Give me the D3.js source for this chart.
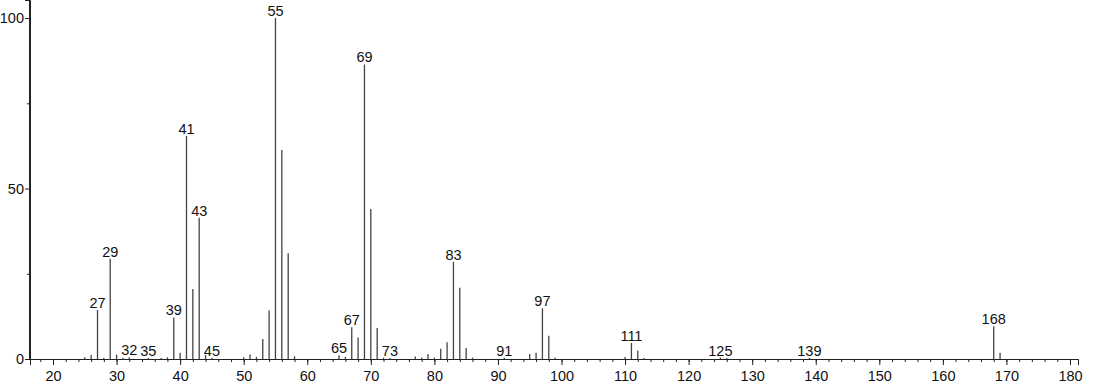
<!DOCTYPE html>
<html>
<head>
<meta charset="utf-8">
<script src="https://cdn.jsdelivr.net/npm/d3@7"></script>
<style>
  body { margin: 0; background: #fff; }
  svg { display: block; font-family: "Liberation Sans", Arial, sans-serif; }
</style>
</head>
<body>
<div id="chart"></div>
<script>
// m/z values and relative intensities (%)
const mz = [25, 26, 27, 28, 29, 30, 31, 32, 35, 37, 38, 39, 40, 41, 42, 43, 44, 45,
  50, 51, 52, 53, 54, 55, 56, 57, 58, 65, 66, 67, 68, 69, 70, 71, 72, 73,
  77, 78, 79, 80, 81, 82, 83, 84, 85, 86, 91, 95, 96, 97, 98, 99,
  110, 111, 112, 113, 125, 126, 139, 168, 169]
const intensity = [0.5, 1.2, 14.4, 0.3, 29.4, 1.3, 0.4, 0.5, 0.3, 0.3, 0.5, 12.2, 1.8, 65.4, 20.5, 41.4, 1.2, 0.4,
  0.5, 1.3, 0.6, 5.9, 14.2, 100, 61.3, 31, 0.8, 1.1, 0.6, 9.3, 6.3, 86.4, 44, 9.1, 0.4, 0.3,
  0.7, 0.4, 1.5, 0.4, 3.0, 4.9, 28.5, 20.9, 3.2, 0.4, 0.4, 1.5, 1.8, 14.9, 6.8, 0.4,
  0.6, 4.7, 2.5, 0.3, 0.4, 0.3, 0.3, 9.6, 1.8]
const labelled = [27, 29, 32, 35, 39, 41, 43, 45, 55, 65, 67, 69, 73, 83, 91, 97, 111, 125, 139, 168]
const xTicks = [20, 30, 40, 50, 60, 70, 80, 90, 100, 110, 120, 130, 140, 150, 160, 170, 180]
const yTicks = [0, 50, 100]

drawSpectrum("#chart")

function drawSpectrum(id){
    const canvas = {width: 1094, height: 384, margin: {top: 0, bottom: 25, left: 30, right: 16}}
    const svg = d3.select(id).append("svg")
        .attr("width", canvas.width).attr("height", canvas.height)

    const x = d3.scaleLinear().domain([16.38, 181.26])
        .range([canvas.margin.left, canvas.width - canvas.margin.right])
    const y = d3.scaleLinear().domain([0, 105.3])
        .range([canvas.height - canvas.margin.bottom, canvas.margin.top])

    const data = mz.map((m, i) => ({mz: m, v: intensity[i]}))

    // peaks
    svg.append("g").selectAll("line").data(data).join("line")
        .attr("x1", d => x(d.mz)).attr("x2", d => x(d.mz))
        .attr("y1", y(0)).attr("y2", d => y(d.v))
        .attr("stroke", "#444").attr("stroke-width", 1.3)

    // peak labels
    svg.append("g").selectAll("text").data(data.filter(d => labelled.includes(d.mz))).join("text")
        .attr("x", d => x(d.mz)).attr("y", d => y(d.v) - 2)
        .attr("text-anchor", "middle").attr("font-size", 14.5).attr("fill", "#111")
        .text(d => d.mz)

    // x axis
    const xg = svg.append("g").attr("transform", `translate(0,${y(0)})`)
    xg.call(d3.axisBottom(x).tickValues(d3.range(18, 182, 2)).tickSize(3).tickFormat(""))
    xg.append("g").call(d3.axisBottom(x).tickValues(xTicks).tickSize(6).tickPadding(6))
    xg.selectAll(".domain").attr("stroke", "#222")
    xg.selectAll("text").attr("font-size", 14.5).attr("fill", "#111").attr("font-family", "Liberation Sans, Arial, sans-serif")
    xg.selectAll("line").attr("stroke", "#222")

    // y axis
    const yg = svg.append("g").attr("transform", `translate(${canvas.margin.left},0)`)
    yg.call(d3.axisLeft(y).tickValues([25, 75]).tickSize(3).tickFormat(""))
    yg.append("g").call(d3.axisLeft(y).tickValues(yTicks).tickSize(5).tickPadding(1))
    yg.select(".domain").attr("d", `M-0.5,${y(0)}V0`)
    yg.selectAll(".domain").attr("stroke", "#222")
    yg.selectAll("text").attr("font-size", 14.5).attr("fill", "#111").attr("font-family", "Liberation Sans, Arial, sans-serif")
    yg.selectAll("line").attr("stroke", "#222")
}
</script>
</body>
</html>
